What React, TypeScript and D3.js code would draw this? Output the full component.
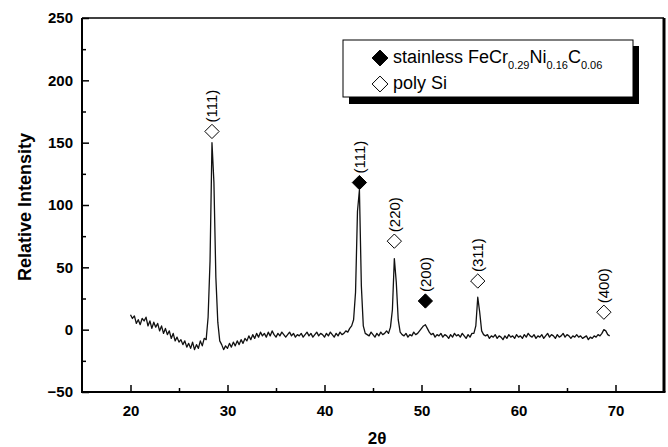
import React, { useEffect, useRef } from "react";
import * as d3 from "d3";

// XRD scan: 2θ from 20.0 in 0.2 deg steps
const scanStart = 20.0;
const scanStep = 0.2;
const intensity = [
  12, 9, 11, 5, 8, 4, 9, 7, 10, 3,
  7, 1, 6, 2, 5, -1, 3, -3, 1, -4,
  -1, -7, -3, -9, -6, -10, -8, -12, -9, -14,
  -11, -15, -10, -16, -12, -15, -9, -13, -7, -8,
  10, 55, 150, 118, 42, 6, -9, -12, -16, -13,
  -15, -11, -14, -10, -13, -9, -12, -8, -11, -7,
  -9, -5, -8, -4, -7, -3, -6, -2, -5, -3,
  -6, -2, -5, -1, -4, -6, -3, -5, -2, -4,
  -6, -4, -2, -5, -3, -6, -4, -5, -3, -6,
  -4, -2, -5, -3, -6, -4, -2, -5, -3, -4,
  -6, -3, -5, -2, -4, -6, -3, -5, -2, -4,
  -3, -1, -2, 1, 3, 8, 30, 95, 112, 35,
  3, -3, -4, -5, -2, -4, -6, -3, -5, -2,
  -4, -3, -1, -3, 2, 16, 57, 38, 8, -2,
  -4, -5, -3, -6, -4, -5, -2, -4, -3, -1,
  1, 3, 4, 1, -2, -4, -3, -6, -4, -5,
  -3, -6, -4, -5, -7, -4, -6, -3, -5, -4,
  -6, -3, -5, -7, -4, -6, -3, -3, 3, 26,
  14, -1, -4, -5, -4, -7, -5, -6, -4, -7,
  -5, -6, -8, -5, -7, -4, -6, -5, -7, -4,
  -6, -5, -7, -4, -6, -3, -5, -6, -4, -7,
  -5, -6, -4, -7, -5, -3, -6, -4, -5, -7,
  -4, -6, -5, -3, -6, -4, -5, -7, -5, -6,
  -4, -6, -5, -7, -6, -5, -8, -6, -7, -5,
  -6, -4, -5, -3, 0, -1, -4, -5,
];

// peak markers
const siPositions = [28.4, 47.2, 55.8, 68.8];
const siMarkers = [159, 71, 39, 14];
const siLabels = ["(111)", "(220)", "(311)", "(400)"];
const fccPositions = [43.6, 50.4];
const fccMarkers = [118, 23];
const fccLabels = ["(111)", "(200)"];

const xMajor = [20, 30, 40, 50, 60, 70];
const xMinor = [25, 35, 45, 55, 65];
const yMajor = [-50, 0, 50, 100, 150, 200, 250];
const yMinor = [-25, 25, 75, 125, 175, 225];

const W = 668;
const H = 447;
const L = 82, R = 664, T = 18, B = 392;

const App = () => {
  const svgRef = useRef<SVGSVGElement>(null);

  useEffect(() => {
    const svg = d3.select(svgRef.current);
    svg.selectAll("*").remove();

    const x = d3.scaleLinear().domain([15, 75]).range([L, R]);
    const y = d3.scaleLinear().domain([-50, 250]).range([B, T]);

    const font = "Arial, 'Liberation Sans', sans-serif";

    // axes
    const xAx = svg.append("g").attr("transform", `translate(0,${B})`)
      .call(d3.axisBottom(x).tickValues(xMajor).tickSize(-7).tickPadding(13).tickFormat(d3.format("d")));
    const xMin = svg.append("g").attr("transform", `translate(0,${B})`)
      .call(d3.axisBottom(x).tickValues(xMinor).tickSize(-4).tickFormat(() => ""));
    const yAx = svg.append("g").attr("transform", `translate(${L},0)`)
      .call(d3.axisLeft(y).tickValues(yMajor).tickSize(-7).tickPadding(9).tickFormat(d3.format("d")));
    const yMin = svg.append("g").attr("transform", `translate(${L},0)`)
      .call(d3.axisLeft(y).tickValues(yMinor).tickSize(-4).tickFormat(() => ""));
    [xAx, xMin, yAx, yMin].forEach((g) => {
      g.select(".domain").remove();
      g.selectAll("line").attr("stroke", "#000").attr("stroke-width", 1.5);
      g.selectAll("text").attr("fill", "#000").attr("font-family", font)
        .attr("font-size", 15).attr("font-weight", "bold");
    });

    // frame
    const frame = svg.append("g").attr("stroke", "#000").attr("fill", "none");
    frame.append("line").attr("x1", L).attr("x2", R).attr("y1", T).attr("y2", T).attr("stroke-width", 1.5);
    frame.append("line").attr("x1", R).attr("x2", R).attr("y1", T).attr("y2", B).attr("stroke-width", 3);
    frame.append("line").attr("x1", L).attr("x2", R + 1.5).attr("y1", B).attr("y2", B).attr("stroke-width", 2);
    frame.append("line").attr("x1", L).attr("x2", L).attr("y1", T).attr("y2", B + 1).attr("stroke-width", 2);

    // scan line
    const line = d3.line<number>()
      .x((_, i) => x(scanStart + i * scanStep))
      .y((d) => y(d));
    svg.append("path").datum(intensity).attr("d", line)
      .attr("fill", "none").attr("stroke", "#111").attr("stroke-width", 1.3)
      .attr("stroke-linejoin", "round");

    const diamond = d3.symbol().type(d3.symbolDiamond2).size(130);
    const bigDiamond = d3.symbol().type(d3.symbolDiamond2).size(160);

    const drawMarkers = (pos: number[], h: number[], labels: string[], filled: boolean) => {
      pos.forEach((p, i) => {
        const cx = x(p), cy = y(h[i]);
        svg.append("path").attr("d", diamond)
          .attr("transform", `translate(${cx},${cy})`)
          .attr("fill", filled ? "#000" : "#fff").attr("stroke", "#000").attr("stroke-width", 1);
        svg.append("text").text(labels[i])
          .attr("transform", `translate(${cx + 5.5},${cy - 9}) rotate(-90)`)
          .attr("font-family", font).attr("font-size", 15).attr("fill", "#000");
      });
    };
    drawMarkers(siPositions, siMarkers, siLabels, false);
    drawMarkers(fccPositions, fccMarkers, fccLabels, true);

    // legend
    const lg = svg.append("g");
    lg.append("rect").attr("x", 349).attr("y", 46).attr("width", 290).attr("height", 58).attr("fill", "#000");
    lg.append("rect").attr("x", 343).attr("y", 40).attr("width", 290).attr("height", 57)
      .attr("fill", "#fff").attr("stroke", "#000").attr("stroke-width", 1);
    lg.append("path").attr("d", bigDiamond).attr("transform", "translate(380,58)").attr("fill", "#000").attr("stroke", "#000");
    lg.append("path").attr("d", bigDiamond).attr("transform", "translate(380,84)").attr("fill", "#fff").attr("stroke", "#000");
    const t1 = lg.append("text").attr("x", 393).attr("y", 63)
      .attr("font-family", font).attr("font-size", 18).attr("fill", "#000");
    const parts: [string, boolean][] = [["stainless FeCr", false], ["0.29", true], ["Ni", false], ["0.16", true], ["C", false], ["0.06", true]];
    parts.forEach(([s, sub], i) => {
      t1.append("tspan").text(s)
        .attr("font-size", sub ? 11 : 18)
        .attr("dy", sub ? 6 : i === 0 ? 0 : -6);
    });
    lg.append("text").attr("x", 393).attr("y", 89).text("poly Si")
      .attr("font-family", font).attr("font-size", 18).attr("fill", "#000");

    // titles
    svg.append("text").text("Relative Intensity")
      .attr("transform", `translate(31,${(T + B) / 2 + 2}) rotate(-90)`)
      .attr("text-anchor", "middle").attr("font-family", font)
      .attr("font-size", 18).attr("font-weight", "bold").attr("fill", "#000");
    svg.append("text").text("2θ")
      .attr("x", (L + R) / 2 + 4).attr("y", 444).attr("text-anchor", "middle")
      .attr("font-family", font).attr("font-size", 17).attr("font-weight", "bold").attr("fill", "#000");
  }, []);

  return (
    <svg ref={svgRef} width={W} height={H}
      style={{ position: "absolute", left: 0, top: 0, background: "#fff" }} />
  );
};

export default App;
